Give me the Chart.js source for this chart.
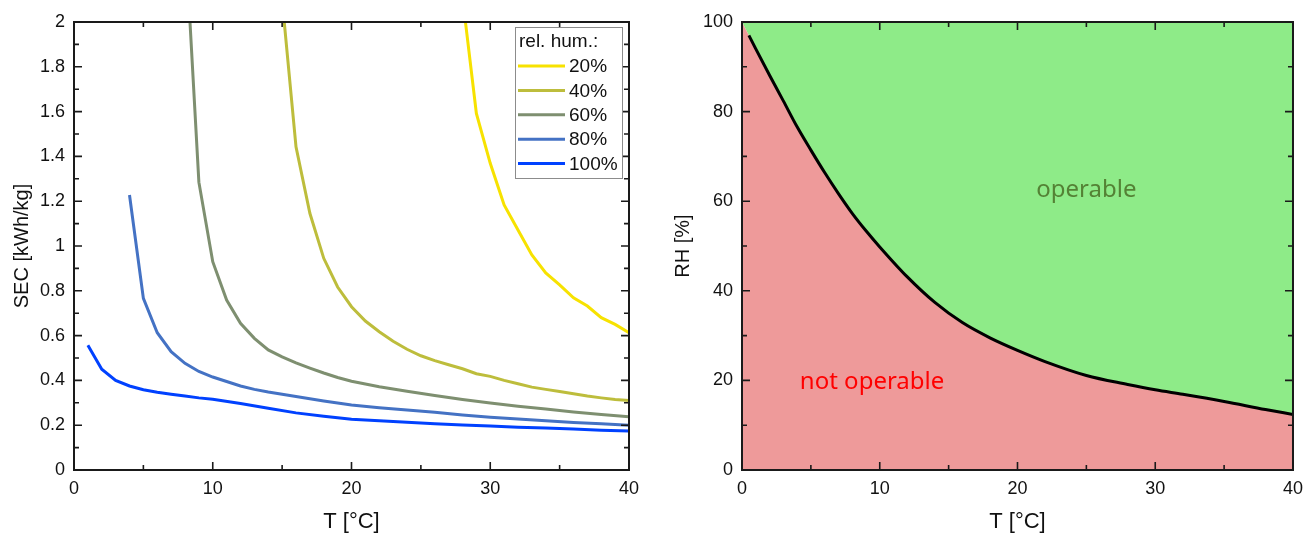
<!DOCTYPE html>
<html>
<head>
<meta charset="utf-8">
<script src="https://cdn.jsdelivr.net/npm/chart.js@4.4.0/dist/chart.umd.min.js"></script>
<style>
  body { margin: 0; background: #fff; width: 1311px; height: 536px; overflow: hidden; position: relative; }
  .box { position: absolute; top: 0; height: 536px; }
  #left { left: 0; width: 655px; }
  #right { left: 655px; width: 656px; }
</style>
</head>
<body>
<div class="box" id="left"><canvas id="secChart"></canvas></div>
<div class="box" id="right"><canvas id="rhChart"></canvas></div>
<script>
// --- dados ---
const humLabels = ['20%', '40%', '60%', '80%', '100%'];
const humColors = ['#f7e200', '#bdbd3c', '#7e8f70', '#4472c4', '#0041ff'];

// SEC [kWh/kg] em função de T [°C] para cada umidade relativa
const t20 = [28, 29, 30, 31, 32, 33, 34, 35, 36, 37, 38, 39, 40];
const sec20 = [2.11, 1.592, 1.369, 1.183, 1.071, 0.96, 0.88, 0.826, 0.769, 0.732, 0.68, 0.65, 0.613];

const t40 = [15, 16, 17, 18, 19, 20, 21, 22, 23, 24, 25, 26, 27, 28, 29, 30, 31, 32, 33, 34, 35, 36, 37, 38, 39, 40];
const sec40 = [2.1, 1.443, 1.146, 0.945, 0.817, 0.729, 0.665, 0.617, 0.575, 0.539, 0.51, 0.488, 0.47, 0.452, 0.43, 0.418, 0.40, 0.385, 0.37, 0.36, 0.35, 0.34, 0.33, 0.322, 0.315, 0.31];

const t60 = [8, 9, 10, 11, 12, 13, 14, 15, 16, 17, 18, 19, 20, 22, 24, 26, 28, 30, 32, 34, 36, 38, 40];
const sec60 = [2.4, 1.285, 0.93, 0.759, 0.655, 0.588, 0.536, 0.505, 0.478, 0.455, 0.433, 0.413, 0.396, 0.372, 0.352, 0.333, 0.315, 0.299, 0.285, 0.272, 0.259, 0.248, 0.238];

const t80 = [4, 5, 6, 7, 8, 9, 10, 11, 12, 13, 14, 15, 16, 18, 20, 22, 24, 26, 28, 30, 32, 34, 36, 38, 40];
const sec80 = [1.228, 0.766, 0.613, 0.528, 0.476, 0.44, 0.415, 0.395, 0.375, 0.36, 0.348, 0.338, 0.328, 0.308, 0.29, 0.278, 0.268, 0.258, 0.246, 0.236, 0.228, 0.22, 0.212, 0.206, 0.2];

const t100 = [1, 2, 3, 4, 5, 6, 7, 8, 9, 10, 12, 14, 16, 18, 20, 22, 24, 26, 28, 30, 32, 34, 36, 38, 40];
const sec100 = [0.557, 0.45, 0.40, 0.375, 0.358, 0.347, 0.338, 0.33, 0.322, 0.316, 0.297, 0.276, 0.255, 0.24, 0.227, 0.22, 0.213, 0.207, 0.201, 0.196, 0.191, 0.187, 0.183, 0.178, 0.174];

// limite de operação RH(T); o primeiro ponto é o canto do gráfico
const limitT = [0, 0.5, 1, 2, 3, 4, 5, 6, 7, 8, 9, 10, 12, 14, 16, 18, 20, 22, 25, 28, 30, 32, 35, 38, 40];
const limitRH = [100, 97.0, 94.0, 88.1, 82.4, 76.6, 71.4, 66.4, 61.7, 57.3, 53.4, 49.8, 43.1, 37.4, 32.9, 29.5, 26.7, 24.2, 21.1, 19.1, 17.9, 16.9, 15.3, 13.5, 12.4];

// ticks
const tTicks = [0, 10, 20, 30, 40];
const tMinor = [5, 15, 25, 35];
const secTicks = [0, 0.2, 0.4, 0.6, 0.8, 1, 1.2, 1.4, 1.6, 1.8, 2];
const secMinor = [0.1, 0.3, 0.5, 0.7, 0.9, 1.1, 1.3, 1.5, 1.7, 1.9];
const rhTicks = [0, 20, 40, 60, 80, 100];
const rhMinor = [10, 30, 50, 70, 90];

// rótulos das regiões: [texto, T, RH, cor, alinhamento]
const regionText = [
    ['operable', 25, 62.5, '#548235', 'center'],
    ['not operable', 4.2, 19.5, '#ff0000', 'left']
];

const FONT = "'Liberation Sans', Arial, sans-serif";

function toPoints(xs, ys) {
    return xs.map((x, i) => ({ x: x, y: ys[i] }));
}

// moldura com ticks para dentro (estilo Origin)
const framePlugin = {
    id: 'frame',
    afterDraw(chart, args, opts) {
        const ctx = chart.ctx;
        const a = chart.chartArea;
        const xs = chart.scales.x, ys = chart.scales.y;
        ctx.save();
        ctx.strokeStyle = '#1a1a1a';
        ctx.lineWidth = 2;
        ctx.strokeRect(a.left, a.top, a.right - a.left, a.bottom - a.top);
        ctx.lineWidth = 1.6;
        ctx.beginPath();
        const tick = (vals, len) => {
            vals.forEach(v => {
                const px = xs.getPixelForValue(v);
                ctx.moveTo(px, a.bottom); ctx.lineTo(px, a.bottom - len);
                ctx.moveTo(px, a.top); ctx.lineTo(px, a.top + len);
            });
        };
        const tickY = (vals, len) => {
            vals.forEach(v => {
                const py = ys.getPixelForValue(v);
                ctx.moveTo(a.left, py); ctx.lineTo(a.left + len, py);
                ctx.moveTo(a.right, py); ctx.lineTo(a.right - len, py);
            });
        };
        tick(opts.xMajor, 8);
        tick(opts.xMinor, 5);
        tickY(opts.yMajor, 8);
        tickY(opts.yMinor, 5);
        ctx.stroke();
        ctx.restore();
    }
};

// legenda desenhada dentro da área do gráfico
const boxLegendPlugin = {
    id: 'boxLegend',
    afterDraw(chart) {
        const ctx = chart.ctx;
        const a = chart.chartArea;
        const right = a.right - 7, top = a.top + 5;
        const w = 107, h = 151;
        const left = right - w;
        ctx.save();
        ctx.fillStyle = '#fff';
        ctx.fillRect(left, top, w, h);
        ctx.strokeStyle = '#8c8c8c';
        ctx.lineWidth = 1;
        ctx.strokeRect(left + 0.5, top + 0.5, w, h);
        ctx.font = '19px ' + FONT;
        ctx.fillStyle = '#111';
        ctx.textBaseline = 'middle';
        ctx.fillText('rel. hum.:', left + 4, top + 15);
        chart.data.datasets.forEach((ds, i) => {
            const y = top + 39 + i * 24.4;
            ctx.strokeStyle = ds.borderColor;
            ctx.lineWidth = 3;
            ctx.beginPath();
            ctx.moveTo(left + 3, y);
            ctx.lineTo(left + 50, y);
            ctx.stroke();
            ctx.fillText(ds.label, left + 54, y + 1);
        });
        ctx.restore();
    }
};

const regionTextPlugin = {
    id: 'regionText',
    afterDatasetsDraw(chart) {
        const ctx = chart.ctx;
        ctx.save();
        ctx.font = "24px 'Noto Sans', 'Open Sans', sans-serif";
        ctx.textBaseline = 'middle';
        regionText.forEach(([txt, t, rh, color, align]) => {
            ctx.fillStyle = color;
            ctx.textAlign = align;
            ctx.fillText(txt, chart.scales.x.getPixelForValue(t), chart.scales.y.getPixelForValue(rh));
        });
        ctx.restore();
    }
};

function fixedSize(size) {
    return function(scale) {
        if (scale.isHorizontal()) scale.height = size;
        else scale.width = size;
    };
}

function fmt(v) {
    return String(Math.round(v * 10) / 10);
}

function xScale(height) {
    return {
        type: 'linear', min: 0, max: 40,
        afterFit: fixedSize(height),
        grid: { display: false, drawTicks: false },
        border: { display: false },
        afterBuildTicks: s => { s.ticks = tTicks.map(v => ({ value: v })); },
        ticks: { color: '#111', font: { family: FONT, size: 18 }, padding: 8, maxRotation: 0, callback: fmt },
        title: { display: true, text: 'T [°C]', color: '#111', font: { family: FONT, size: 22 }, padding: { top: 0, bottom: 1 } }
    };
}

// Gráfico SEC
new Chart(document.getElementById('secChart'), {
    type: 'line',
    data: {
        datasets: [
            [t20, sec20], [t40, sec40], [t60, sec60], [t80, sec80], [t100, sec100]
        ].map((d, i) => ({
            label: humLabels[i],
            data: toPoints(d[0], d[1]),
            borderColor: humColors[i],
            borderWidth: 3,
            pointRadius: 0,
            tension: 0,
            fill: false
        }))
    },
    options: {
        responsive: true,
        maintainAspectRatio: false,
        animation: false,
        layout: { padding: { top: 22, right: 26, left: 0, bottom: 0 } },
        plugins: {
            legend: { display: false },
            tooltip: { enabled: false },
            frame: { xMajor: tTicks, xMinor: tMinor, yMajor: secTicks, yMinor: secMinor }
        },
        scales: {
            x: xScale(66),
            y: {
                type: 'linear', min: 0, max: 2,
                afterFit: fixedSize(74),
                grid: { display: false, drawTicks: false },
                border: { display: false },
                afterBuildTicks: s => { s.ticks = secTicks.map(v => ({ value: v })); },
                ticks: { color: '#111', font: { family: FONT, size: 18 }, padding: 9, callback: fmt },
                title: { display: true, text: 'SEC [kWh/kg]', color: '#111', font: { family: FONT, size: 20 }, padding: { top: 10, bottom: 0 } }
            }
        }
    },
    plugins: [framePlugin, boxLegendPlugin]
});

// Gráfico RH
const smooth = { tension: 0.4, cubicInterpolationMode: 'monotone' };
new Chart(document.getElementById('rhChart'), {
    type: 'line',
    data: {
        datasets: [
            Object.assign({
                label: 'limit',
                data: toPoints(limitT.slice(1), limitRH.slice(1)),
                borderColor: '#000',
                borderWidth: 3,
                pointRadius: 0,
                fill: false
            }, smooth),
            Object.assign({
                label: 'not operable',
                data: toPoints(limitT, limitRH),
                borderWidth: 0,
                pointRadius: 0,
                backgroundColor: '#ee9a9a',
                fill: 'origin'
            }, smooth),
            Object.assign({
                label: 'operable',
                data: toPoints(limitT, limitRH),
                borderWidth: 0,
                pointRadius: 0,
                backgroundColor: '#8eeb88',
                fill: 'end'
            }, smooth)
        ]
    },
    options: {
        responsive: true,
        maintainAspectRatio: false,
        animation: false,
        layout: { padding: { top: 22, right: 13, left: 0, bottom: 0 } },
        plugins: {
            legend: { display: false },
            tooltip: { enabled: false },
            frame: { xMajor: tTicks, xMinor: tMinor, yMajor: rhTicks, yMinor: rhMinor }
        },
        scales: {
            x: xScale(66),
            y: {
                type: 'linear', min: 0, max: 100,
                afterFit: fixedSize(87),
                grid: { display: false, drawTicks: false },
                border: { display: false },
                afterBuildTicks: s => { s.ticks = rhTicks.map(v => ({ value: v })); },
                ticks: { color: '#111', font: { family: FONT, size: 18 }, padding: 9 },
                title: { display: true, text: 'RH [%]', color: '#111', font: { family: FONT, size: 20 }, padding: { top: 16, bottom: 0 } }
            }
        }
    },
    plugins: [regionTextPlugin, framePlugin]
});
</script>
</body>
</html>
